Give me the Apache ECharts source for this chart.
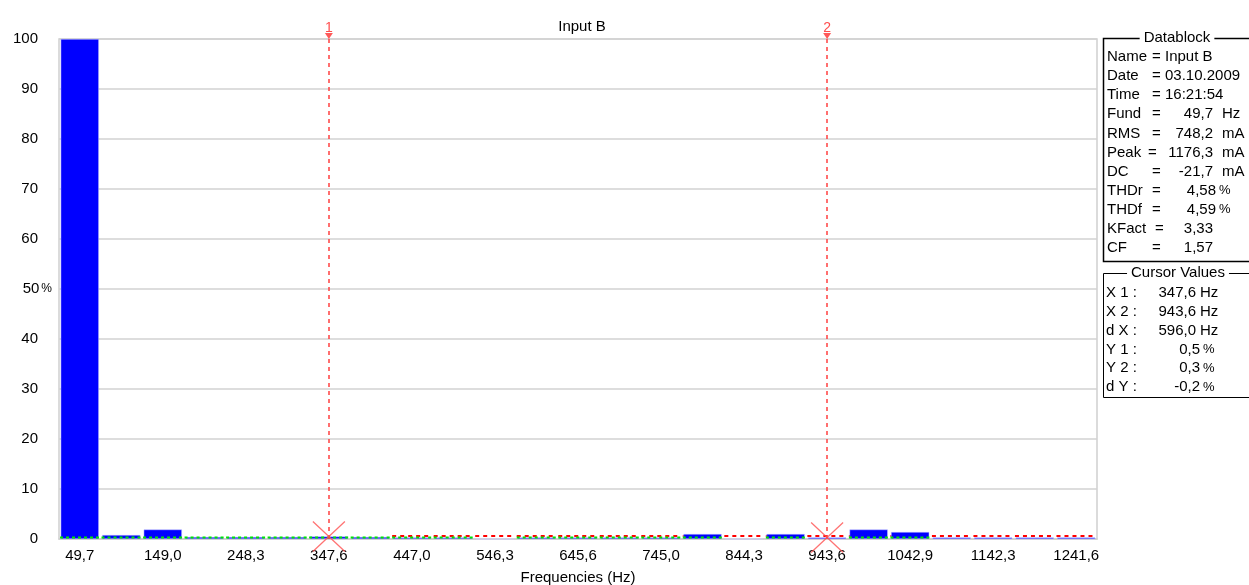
<!DOCTYPE html>
<html>
<head>
<meta charset="utf-8">
<title>Input B</title>
<script src="https://cdn.jsdelivr.net/npm/echarts@6/dist/echarts.min.js"></script>
<style>
  html, body { margin: 0; padding: 0; background: #fff; }
  #chart { width: 1249px; height: 585px; }
</style>
</head>
<body>
<div id="chart"></div>
<script>
// Harmonic bins (Hz) – every second one is labelled on the axis
const categories = ['49,7','99,3','149,0','198,7','248,3','298,0','347,6','397,3','447,0','496,6',
  '546,3','596,0','645,6','695,3','745,0','794,6','844,3','894,0','943,6','993,2',
  '1042,9','1092,6','1142,3','1191,9','1241,6'];

// Harmonic amplitude in % of the fundamental
const amplitude = [100, 0.8, 1.9, 0.4, 0.4, 0.4, 0.5, 0.4, 0.3, 0.3,
  0, 0.3, 0.3, 0.3, 0.3, 1.0, 0, 1.0, 0.3, 1.9,
  1.4, 0.3, 0.3, 0.3, 0.3];

// Overlay levels per bin (null = not drawn)
const greenLevel = [0.3, 0.3, 0.3, 0.3, 0.3, 0.3, 0.3, 0.3, 0.3, 0.3,
  null, 0.3, 0.3, 0.3, 0.3, 0.3, null, 0.3, null, 0.3,
  0.3, null, null, null, null];
const redLevel = [null, null, null, null, null, null, null, null, 0.6, 0.6,
  0.6, 0.6, 0.6, 0.6, 0.6, 0.6, 0.6, 0.6, 0.6, 0.6,
  0.6, 0.6, 0.6, 0.6, 0.6];

// Cursors: frequency bin and reading
const cursorNames = ['1', '2'];
const cursorX = ['347,6', '943,6'];
const cursorY = [0.5, 0.3];

// Y axis ticks
const yTicks = [0, 10, 20, 30, 40, 50, 60, 70, 80, 90, 100];

// Side panel texts
const datablockTitle = 'Datablock';
const datablockLabels = ['Name', 'Date', 'Time', 'Fund', 'RMS', 'Peak', 'DC', 'THDr', 'THDf', 'KFact', 'CF'];
const datablockValues = ['Input B', '03.10.2009', '16:21:54', '49,7', '748,2', '1176,3', '-21,7', '4,58', '4,59', '3,33', '1,57'];
const datablockUnits = ['', '', '', 'Hz', 'mA', 'mA', 'mA', '%', '%', '', ''];

const cursorTitle = 'Cursor Values';
const cursorLabels = ['X 1 :', 'X 2 :', 'd X :', 'Y 1 :', 'Y 2 :', 'd Y :'];
const cursorValues = ['347,6', '943,6', '596,0', '0,5', '0,3', '-0,2'];
const cursorUnits = ['Hz', 'Hz', 'Hz', '%', '%', '%'];

const FONT = '"Liberation Sans", Arial, sans-serif';
const FS = 15;

function levelSegments(levels, color, dash, z) {
  const data = [];
  levels.forEach((v, i) => { if (v !== null) data.push([i, v]); });
  return {
    type: 'custom',
    z: z,
    silent: true,
    encode: { x: 0, y: 1 },
    data: data,
    renderItem: function (params, api) {
      const p = api.coord([api.value(0), api.value(1)]);
      const w = api.size([1, 0])[0];
      return {
        type: 'line',
        shape: { x1: p[0] - w / 2 + 1, y1: p[1], x2: p[0] + w / 2 - 1, y2: p[1] },
        style: { stroke: color, lineWidth: 2, lineDash: dash }
      };
    }
  };
}

// Side panel graphics
const graphics = [];
function txt(x, y, text, align, size) {
  graphics.push({
    type: 'text', x: x, y: y, silent: true,
    style: { text: text, fill: '#000', font: (size || FS) + 'px ' + FONT, align: align || 'left', verticalAlign: 'middle' }
  });
}
function box(top, bottom, title, titleX, lw) {
  graphics.push({
    type: 'rect', silent: true,
    shape: { x: 1103.5, y: top + 0.5, width: 200, height: bottom - top },
    style: { fill: 'none', stroke: '#000', lineWidth: lw }
  });
  graphics.push({
    type: 'text', x: titleX, y: top, silent: true, z: 10,
    style: { text: title, fill: '#000', font: FS + 'px ' + FONT, align: 'center', verticalAlign: 'middle',
      backgroundColor: '#fff', padding: [0, 4] }
  });
}
box(38, 261, datablockTitle, 1177, 1.5);
const dbRowY0 = 57, dbRowStep = 19.1;
datablockLabels.forEach((lab, i) => {
  const y = dbRowY0 + i * dbRowStep;
  txt(1107, y, lab);
  const eqX = i === 5 ? 1148 : (i === 9 ? 1155 : 1152);
  txt(eqX, y, '=');
  if (i < 3) {
    txt(1165, y, datablockValues[i]);
  } else {
    const isPct = datablockUnits[i] === '%';
    txt(isPct ? 1216 : 1213, y, datablockValues[i], 'right');
    if (datablockUnits[i]) txt(isPct ? 1219 : 1222, y, datablockUnits[i], 'left', isPct ? 13 : FS);
  }
});
box(273, 397, cursorTitle, 1178, 1);
cursorLabels.forEach((lab, i) => {
  const y = 293 + i * 18.8;
  txt(1106, y, lab);
  const isPct = cursorUnits[i] === '%';
  txt(isPct ? 1200 : 1196, y, cursorValues[i], 'right');
  txt(isPct ? 1203 : 1200, y, cursorUnits[i], 'left', isPct ? 13 : FS);
});

const chart = echarts.init(document.getElementById('chart'), null, { renderer: 'canvas' });
chart.setOption({
  animation: false,
  backgroundColor: '#fff',
  title: {
    text: 'Input B', left: 577, top: 14, textAlign: 'center',
    textStyle: { fontFamily: FONT, fontSize: FS, fontWeight: 'normal', color: '#000' }
  },
  grid: {
    left: 59, right: 152, top: 39, bottom: 46,
    outerBoundsMode: 'none', containLabel: false,
    show: true, borderColor: '#cfcfcf', borderWidth: 1.5, backgroundColor: 'transparent'
  },
  xAxis: {
    type: 'category',
    data: categories,
    boundaryGap: true,
    name: 'Frequencies (Hz)',
    nameLocation: 'middle',
    nameGap: 31,
    nameTextStyle: { fontFamily: FONT, fontSize: FS, color: '#000' },
    axisLine: { show: true, lineStyle: { color: '#cfcfcf', width: 1.5 } },
    axisTick: { show: false },
    axisLabel: { interval: 1, margin: 9, fontFamily: FONT, fontSize: FS, color: '#000' },
    splitLine: { show: false }
  },
  yAxis: {
    type: 'value',
    min: yTicks[0], max: yTicks[yTicks.length - 1], interval: 10,
    axisLine: { show: false },
    axisTick: { show: false },
    splitLine: { show: true, lineStyle: { color: '#d2d2d2', width: 1.5 } },
    axisLabel: {
      margin: 7,
      fontFamily: FONT, fontSize: FS, color: '#000',
      formatter: v => v === 50 ? '50{p|%}' : v + '{s|}',
      rich: {
        s: { width: 14 },
        p: { padding: [0, 0, 0, 2], fontFamily: FONT, fontSize: 12, color: '#000' }
      }
    }
  },
  series: [
    levelSegments(redLevel, '#ff0000', [4, 4], 1),
    {
      type: 'bar',
      z: 2,
      data: amplitude,
      barCategoryGap: '8%',
      itemStyle: { color: '#0000ff', borderColor: '#c8c8ff', borderWidth: 0.5 },
      silent: true
    },
    levelSegments(greenLevel, '#00e600', [3, 3], 3),
    {
      // cursor markers at the top of the plot
      type: 'scatter',
      z: 5,
      silent: true,
      symbol: 'triangle',
      symbolRotate: 180,
      symbolSize: [8, 6],
      symbolOffset: [0, -3],
      itemStyle: { color: '#ff3030' },
      label: {
        show: true, position: 'top', distance: -2,
        formatter: p => p.name,
        fontFamily: FONT, fontSize: FS - 1, color: '#ff2020'
      },
      data: cursorX.map((x, i) => ({ name: cursorNames[i], value: [x, 100] })),
      markLine: {
        silent: true,
        symbol: 'none',
        label: { show: false },
        lineStyle: { color: '#ff4040', type: [4, 4], width: 1.5 },
        data: cursorX.map(x => ({ xAxis: x }))
      }
    },
    {
      // cursor readings on the spectrum
      type: 'scatter',
      z: 6,
      silent: true,
      symbol: 'path://M0,0L32,30M32,0L0,30',
      symbolSize: [32, 30],
      itemStyle: { color: 'none', borderColor: '#ff5050', borderWidth: 1.2 },
      data: cursorX.map((x, i) => [x, cursorY[i]])
    }
  ],
  graphic: graphics
});
</script>
</body>
</html>
